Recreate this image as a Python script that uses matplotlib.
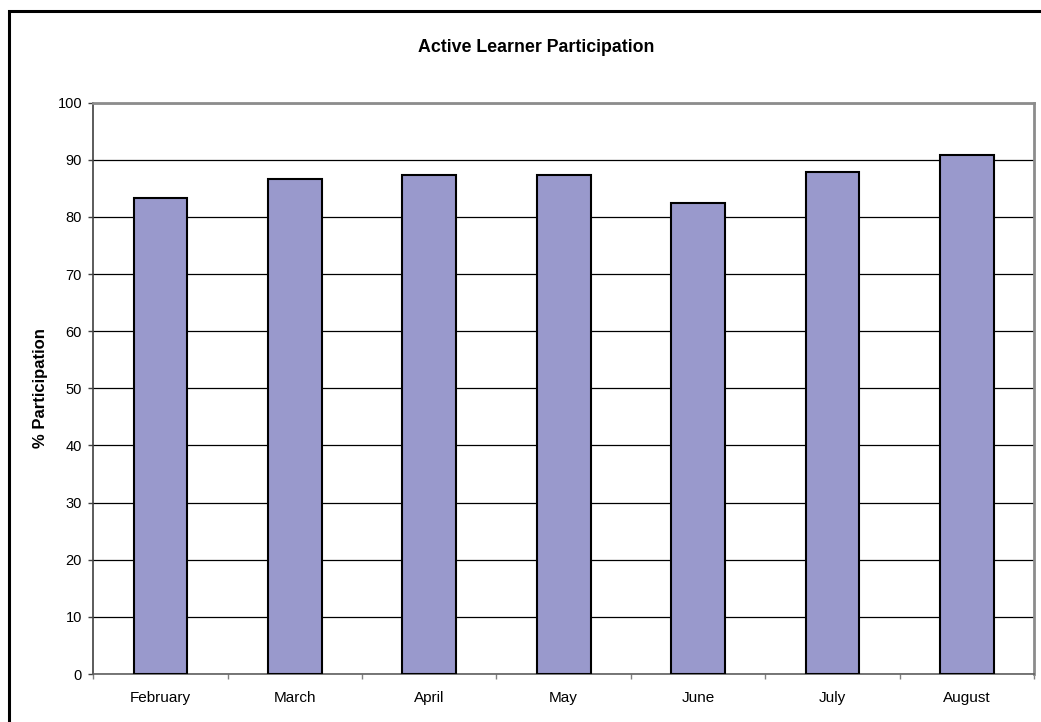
import numpy as np
import matplotlib
matplotlib.use('Agg')
import matplotlib.pyplot as plt
from matplotlib.patches import Rectangle

plt.rcParams['font.family'] = ['Liberation Sans', 'DejaVu Sans']

meses = ['February', 'March', 'April', 'May', 'June', 'July', 'August']
participacao = [83.3, 86.7, 87.4, 87.4, 82.4, 87.8, 90.8]
y_ticks = [0, 10, 20, 30, 40, 50, 60, 70, 80, 90, 100]

fig = plt.figure(figsize=(10.41, 7.22), dpi=100)
ax = fig.add_axes([93.3 / 1041, 1 - 674 / 722, (1034 - 93.3) / 1041, (674 - 102.7) / 722])

# moldura externa (cortada à direita e embaixo)
fig.patches.append(Rectangle((9 / 1041, -0.1), 1.2, 1.1 - 11 / 722,
                             transform=fig.transFigure, fill=False,
                             edgecolor='black', linewidth=2.2))

x = np.arange(len(meses))
ax.bar(x, participacao, width=0.4, color='#9999CC', edgecolor='black',
       linewidth=1.5, zorder=3)

ax.set_xlim(-0.5, len(meses) - 0.5)
ax.set_ylim(0, 100)
ax.set_yticks(y_ticks)
ax.set_xticks(x)
ax.set_xticklabels(meses, fontsize=11)
ax.set_xticks(np.arange(-0.5, len(meses), 1), minor=True)
ax.tick_params(axis='x', which='major', length=0, pad=12)
ax.tick_params(axis='x', which='minor', length=3.6, color='#808080', width=1)
ax.tick_params(axis='y', length=3.6, color='#404040', width=1, labelsize=10.5, pad=4.5)

ax.yaxis.grid(True, color='black', linewidth=0.9, zorder=0)
for s in ['top', 'right']:
    ax.spines[s].set_color('#8c8c8c')
    ax.spines[s].set_linewidth(2)
ax.spines['left'].set_color('#404040')
ax.spines['bottom'].set_color('#606060')
ax.spines['left'].set_linewidth(1.2)
ax.spines['bottom'].set_linewidth(1.2)

ax.set_ylabel('% Participation', fontsize=12, fontweight='bold', labelpad=7)
fig.text(536 / 1041, 1 - 48 / 722, 'Active Learner Participation', ha='center',
         va='center', fontsize=12.8, fontweight='bold')

plt.savefig('out.png', dpi=100)
